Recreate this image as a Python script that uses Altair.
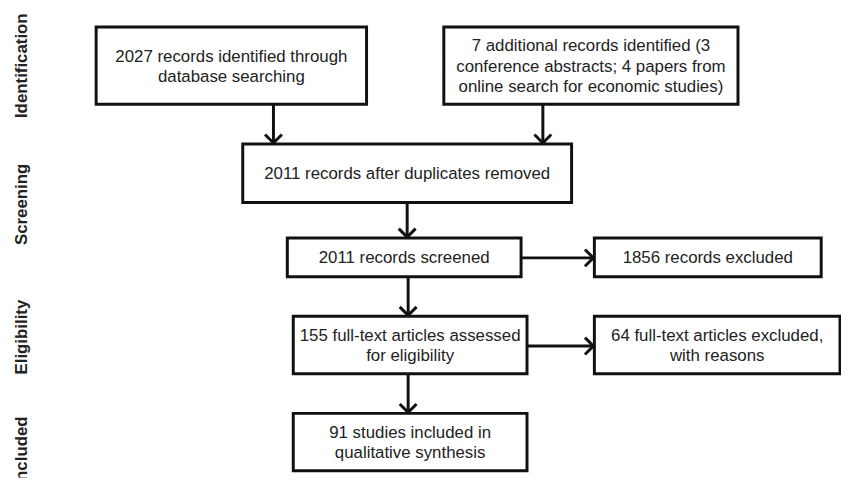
import altair as alt
import pandas as pd

# ---- content ----
box_texts = [
    "2027 records identified through\ndatabase searching",
    "7 additional records identified (3\nconference abstracts; 4 papers from\nonline search for economic studies)",
    "2011 records after duplicates removed",
    "2011 records screened",
    "1856 records excluded",
    "155 full-text articles assessed\nfor eligibility",
    "64 full-text articles excluded,\nwith reasons",
    "91 studies included in\nqualitative synthesis",
]
stage_labels = ["Identification", "Screening", "Eligibility", "Included"]

# ---- layout (page pixel coordinates) ----
box_x1 = [97, 448, 245, 290, 600, 296, 600, 296]
box_x2 = [370, 745, 577, 526, 829, 532, 848, 532]
box_y1 = [25, 25, 143, 238, 238, 317, 317, 415]
box_y2 = [103, 103, 202, 277, 277, 375, 375, 473]
stage_y = [64, 204, 338, 453]
stage_x = 22
LH = 20.5

# arrows: (from box, to box, direction, fixed coordinate)
arrows = [(0, 2, "down", 276), (1, 2, "down", 548), (2, 3, "down", 411),
          (3, 5, "down", 412), (5, 7, "down", 412),
          (3, 4, "right", 258), (5, 6, "right", 347)]

boxes = pd.DataFrame({
    "x1": box_x1, "x2": box_x2, "y1": box_y1, "y2": box_y2,
    "text": box_texts,
})
boxes["cx"] = (boxes.x1 + boxes.x2) / 2
boxes["nl"] = [t.count("\n") for t in box_texts]
boxes["ty"] = (boxes.y1 + boxes.y2) / 2 - boxes.nl * LH / 2 + 1

rows = []
for a, b, d, c in arrows:
    if d == "down":
        rows.append({"x": c, "y": box_y2[a], "x2": c, "y2": box_y1[b] - 1, "dir": d})
    else:
        rows.append({"x": box_x2[a], "y": c, "x2": box_x1[b] - 1, "y2": c, "dir": d})
arr = pd.DataFrame(rows)

stages = pd.DataFrame({"label": stage_labels, "y": stage_y, "x": [stage_x] * 4})

X = alt.Scale(domain=[8, 849], nice=False, zero=False)
Y = alt.Scale(domain=[8, 480], nice=False, zero=False, reverse=True)
FONT = "Liberation Sans"

shafts = alt.Chart(arr).mark_rule(color="#111111", strokeWidth=3).encode(
    x=alt.X("x:Q", scale=X, axis=None),
    y=alt.Y("y:Q", scale=Y, axis=None),
    x2="x2:Q", y2="y2:Q",
)

down_heads = alt.Chart(arr[arr.dir == "down"]).mark_point(
    shape="M-1,-1L0,0L1,-1", filled=False, stroke="#111111", strokeWidth=3,
    size=290, opacity=1,
).encode(x=alt.X("x2:Q", scale=X, axis=None), y=alt.Y("y2:Q", scale=Y, axis=None))

right_heads = alt.Chart(arr[arr.dir == "right"]).mark_point(
    shape="M-1,-1L0,0L-1,1", filled=False, stroke="#111111", strokeWidth=3,
    size=290, opacity=1,
).encode(x=alt.X("x2:Q", scale=X, axis=None), y=alt.Y("y2:Q", scale=Y, axis=None))

rects = alt.Chart(boxes).mark_rect(fill="white", stroke="#111111", strokeWidth=3).encode(
    x=alt.X("x1:Q", scale=X, axis=None), x2="x2:Q",
    y=alt.Y("y1:Q", scale=Y, axis=None), y2="y2:Q",
)

texts = alt.Chart(boxes).mark_text(
    font=FONT, fontSize=17, lineBreak="\n", lineHeight=LH, color="#222222",
    align="center", baseline="middle",
).encode(
    x=alt.X("cx:Q", scale=X, axis=None), y=alt.Y("ty:Q", scale=Y, axis=None),
    text="text:N",
)

stage_text = alt.Chart(stages).mark_text(
    font=FONT, fontSize=17, fontWeight="bold", angle=270, color="#222222",
    align="center", baseline="middle", clip=True,
).encode(
    x=alt.X("x:Q", scale=X, axis=None), y=alt.Y("y:Q", scale=Y, axis=None),
    text="label:N",
)

chart = alt.layer(shafts, down_heads, right_heads, rects, texts, stage_text).properties(
    width=841, height=472, padding=0, autosize="none", background="white",
).configure_view(stroke=None)

chart.save("out.html", embed_options={"renderer": "svg", "actions": False})
